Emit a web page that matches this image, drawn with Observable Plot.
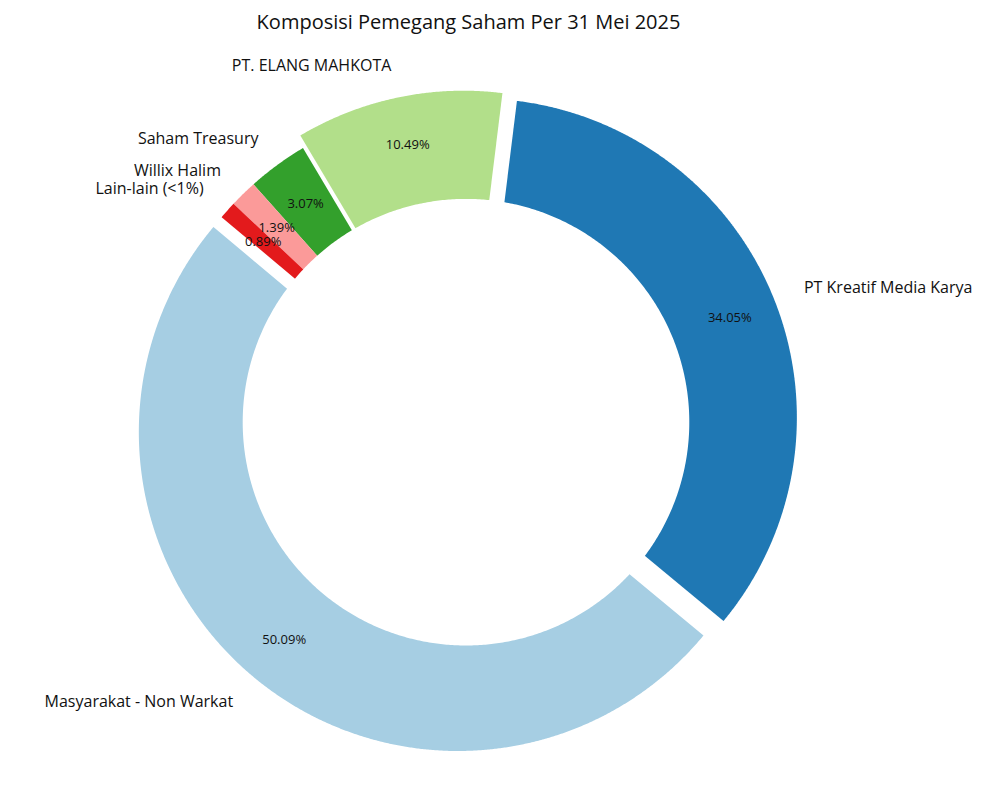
<!DOCTYPE html>
<html><head><meta charset="utf-8">
<script src="https://cdn.jsdelivr.net/npm/d3@7"></script>
<script src="https://cdn.jsdelivr.net/npm/@observablehq/plot@0.6"></script>
<style>body{margin:0;background:#fff} svg{display:block}</style>
</head><body><div id="chart"></div>
<script>
const title = "Komposisi Pemegang Saham Per 31 Mei 2025";
const labels = ["Masyarakat - Non Warkat", "PT Kreatif Media Karya", "PT. ELANG MAHKOTA", "Saham Treasury", "Willix Halim", "Lain-lain (<1%)"];
const values = [50.09, 34.05, 10.49, 3.07, 1.39, 0.89];
const explodes = [0.04, 0.04, 0.04, 0, 0, 0];
const colors = ["#a6cee3", "#1f78b4", "#b2df8a", "#33a02c", "#fb9a99", "#e31a1c"];

const startAngle = 140, holeRadius = 0.7, labelDistance = 1.1, pctDistance = 0.85;
const W = 1000, H = 800, cx = 465.5, cy = 421.7, R = 319;
const FONT = "Open Sans, Roboto, sans-serif";

const total = d3.sum(values);
const wedges = [], labelRows = [], pctRows = [];
let theta = startAngle;
values.forEach((v, i) => {
  const name = labels[i];
  const t1 = theta, t2 = theta + 360 * v / total; theta = t2;
  const mid = (t1 + t2) / 2 * Math.PI / 180;
  const e = explodes[i];
  const ox = e * Math.cos(mid), oy = e * Math.sin(mid);
  const n = Math.max(2, Math.ceil((t2 - t1) * 4));
  wedges.push({name, x: ox, y: oy});
  for (let k = 0; k <= n; k++) {
    const a = (t1 + (t2 - t1) * k / n) * Math.PI / 180;
    wedges.push({name, x: ox + Math.cos(a), y: oy + Math.sin(a)});
  }
  wedges.push({name, x: ox, y: oy});
  const lx = ox + labelDistance * Math.cos(mid), ly = oy + labelDistance * Math.sin(mid);
  labelRows.push({name, x: lx, y: ly, side: lx > 0 ? "right" : "left"});
  pctRows.push({name, x: ox + pctDistance * Math.cos(mid), y: oy + pctDistance * Math.sin(mid), text: v.toFixed(2) + "%"});
});
const hole = d3.range(0, 361, 0.5).map(a => ({x: holeRadius * Math.cos(a * Math.PI / 180), y: holeRadius * Math.sin(a * Math.PI / 180)}));

const chart = Plot.plot({
  width: W, height: H, margin: 0,
  style: {fontFamily: FONT, background: "white"},
  x: {domain: [(0 - cx) / R, (W - cx) / R], range: [0, W], axis: null},
  y: {domain: [(cy - H) / R, cy / R], range: [H, 0], axis: null},
  color: {domain: labels, range: colors},
  marks: [
    Plot.line(wedges, {x: "x", y: "y", z: "name", fill: "name", stroke: "none", curve: "linear"}),
    Plot.line(hole, {x: "x", y: "y", fill: "white", stroke: "none"}),
    Plot.text(labelRows.filter(d => d.side === "right"), {x: "x", y: "y", text: "name", textAnchor: "start", lineAnchor: "middle", fontSize: 16, fill: "#111"}),
    Plot.text(labelRows.filter(d => d.side === "left"), {x: "x", y: "y", text: "name", textAnchor: "end", lineAnchor: "middle", fontSize: 16, fill: "#111"}),
    Plot.text(pctRows, {x: "x", y: "y", text: "text", textAnchor: "middle", lineAnchor: "middle", fontSize: 13, fill: "#111"}),
    Plot.text([title], {frameAnchor: "top", dx: -32, dy: 22, text: d => d, lineAnchor: "middle", fontSize: 20, fill: "#111"})
  ]
});
document.getElementById("chart").appendChild(chart);
</script>
</body></html>
